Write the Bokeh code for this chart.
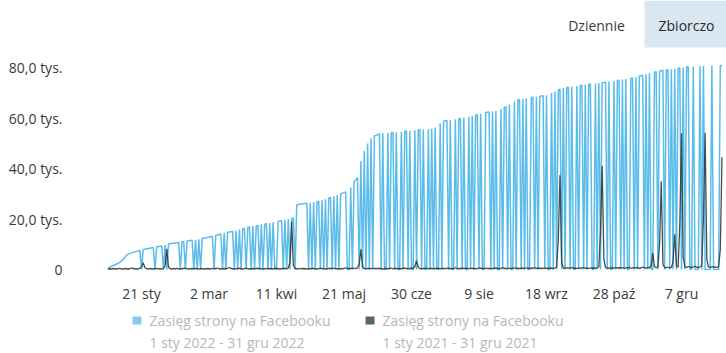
import numpy as np
import pandas as pd
from bokeh.plotting import figure
from bokeh.layouts import column
from bokeh.models import Range1d, FixedTicker, Label, BoxAnnotation
from bokeh.embed import file_html
from bokeh.resources import INLINE

# ---------------- data (thousands of people reached, cumulative) ----------------
year_start = "2022-01-01"
year_end = "2022-12-31"

# 2022 series, one value per day, per month
r22_jan = [0.3, 0.8, 1.2, 1.5, 1.8, 2.1, 2.4, 2.8, 3.3, 4.0, 4.8, 5.6, 6.0, 6.3, 6.6, 6.8, 7.0, 7.2, 7.4, 7.6,
           0, 7.9, 8.0, 8.2, 8.3, 8.4, 8.6, 8.7, 0, 9.0, 9.1]
r22_feb = [9.2, 9.3, 0, 9.7, 0, 10.1, 10.2, 10.3, 10.4, 10.5, 10.6, 10.8, 0, 11.0, 11.1, 0, 11.3, 11.4, 11.5, 11.6,
           0, 11.8, 0, 12.0, 0, 12.3, 12.5, 12.6]
r22_mar = [12.7, 12.8, 13.0, 13.2, 0, 13.5, 13.7, 13.9, 14.1, 0, 14.5, 0, 14.8, 14.9, 15.0, 15.2, 0, 15.5, 0, 15.9,
           0, 16.2, 16.3, 0, 16.7, 16.9, 0, 17.2, 0, 17.4, 17.5]
r22_apr = [0, 17.8, 0, 18.0, 18.2, 0, 18.4, 0, 18.7, 0, 0, 19.1, 19.2, 19.4, 0, 19.7, 0, 20.0, 0, 20.2,
           20.4, 0, 25.7, 25.8, 25.9, 26.0, 26.1, 26.2, 26.3, 0]
r22_may = [26.5, 0, 26.7, 0, 26.9, 27.1, 0, 27.5, 0, 27.9, 0, 28.4, 28.6, 0, 29.0, 0, 29.5, 0, 30.0, 30.3,
           30.5, 30.8, 0, 0, 32.5, 0, 35.0, 35.5, 36.5, 0, 43.0]
r22_jun = [0, 47.0, 0, 50.0, 0, 52.0, 0, 53.0, 53.2, 53.5, 53.7, 0, 54.0, 0, 0, 54.1, 0, 54.2, 54.3, 0,
           54.4, 0, 0, 54.6, 0, 54.8, 54.9, 0, 55.0, 0]
r22_jul = [0, 55.2, 0, 55.4, 55.4, 0, 55.5, 0, 0, 55.7, 0, 55.8, 0, 56.3, 0, 0, 58.0, 0, 58.8, 59.0,
           59.1, 0, 59.3, 0, 0, 59.6, 0, 59.8, 59.9, 0, 60.2]
r22_aug = [0, 0, 60.6, 0, 60.9, 0, 61.3, 61.4, 0, 61.8, 0, 0, 62.3, 62.4, 62.5, 0, 62.8, 0, 63.0, 0,
           0, 63.5, 0, 64.2, 64.6, 0, 65.4, 0, 0, 66.6, 0]
r22_sep = [67.2, 67.4, 0, 67.7, 0, 67.9, 0, 0, 68.2, 68.3, 0, 68.5, 0, 68.7, 68.8, 68.9, 0, 69.1, 0, 0,
           70.0, 0, 70.6, 0, 71.2, 71.5, 0, 72.0, 0, 72.2]
r22_oct = [72.3, 0, 72.5, 0, 0, 72.8, 0, 73.0, 73.1, 0, 73.3, 0, 73.5, 73.6, 0, 0, 73.8, 0, 74.0, 0,
           74.1, 74.2, 74.3, 0, 74.5, 0, 0, 74.8, 0, 75.0, 75.1]
r22_nov = [0, 75.3, 0, 75.5, 0, 0, 75.8, 75.9, 0, 76.2, 0, 76.6, 76.8, 77.0, 0, 77.4, 0, 77.8, 0, 0,
           78.3, 78.4, 0, 78.6, 78.8, 78.9, 0, 79.1, 79.2, 0]
r22_dec = [79.4, 0, 79.6, 0, 79.8, 79.9, 0, 80.1, 0, 80.3, 80.4, 0, 0, 80.5, 0, 0, 0, 80.6, 0, 80.7,
           0, 0, 0, 0, 80.8, 0, 0, 0, 0, 80.9, 80.9]

# 2021 series (comparison period), one value per day, per month
r21_jan = [0.2, 0.3, 0.2, 0.4, 0.3, 0.2, 0.3, 0.5, 0.3, 0.2, 0.4, 0.3, 0.2, 0.3, 0.6, 0.4, 0.3, 0.2, 0.3, 0.5,
           1.0, 2.7, 0.8, 0.3, 0.2, 0.4, 0.3, 0.2, 0.3, 0.5, 0.3]
r21_feb = [0.3, 0.2, 0.4, 1.5, 8.2, 1.0, 0.3, 0.2, 0.4, 0.3, 0.5, 0.3, 0.2, 0.3, 0.4, 0.6, 0.3, 0.2, 0.3, 0.4,
           0.3, 0.5, 0.3, 0.2, 0.4, 0.3, 0.2, 0.3]
r21_mar = [0.4, 0.3, 0.2, 0.5, 0.3, 0.4, 0.6, 0.3, 0.2, 0.3, 0.4, 0.3, 0.5, 0.8, 0.4, 0.3, 0.2, 0.3, 0.5, 0.4,
           0.3, 0.2, 0.4, 0.6, 0.3, 0.2, 0.3, 0.4, 0.3, 0.5, 0.4]
r21_apr = [0.3, 0.4, 0.2, 0.3, 0.5, 0.3, 0.4, 0.3, 0.2, 0.6, 0.4, 0.3, 0.2, 0.3, 0.4, 0.5, 0.3, 0.6, 3.0, 19.0,
           1.5, 0.4, 0.3, 0.2, 0.5, 0.3, 0.4, 0.3, 0.2, 0.4]
r21_may = [0.3, 0.5, 0.4, 0.3, 0.2, 0.4, 0.6, 0.3, 0.4, 0.2, 0.3, 0.5, 0.4, 0.3, 0.6, 0.4, 0.3, 0.2, 0.4, 0.3,
           0.5, 0.7, 0.4, 0.3, 0.5, 0.4, 0.6, 0.3, 0.8, 2.0, 8.0]
r21_jun = [1.2, 0.4, 0.3, 0.5, 0.4, 0.3, 0.6, 0.4, 0.3, 0.5, 0.4, 0.3, 0.2, 0.4, 0.5, 0.3, 0.4, 0.6, 0.3, 0.4,
           0.5, 0.3, 0.4, 0.3, 0.5, 0.6, 0.4, 0.3, 0.5, 0.4]
r21_jul = [0.5, 1.2, 3.5, 0.8, 0.4, 0.3, 0.5, 0.4, 0.6, 0.3, 0.4, 0.5, 0.3, 0.4, 0.6, 0.4, 0.3, 0.5, 0.4, 0.3,
           0.6, 0.4, 0.5, 0.3, 0.4, 0.7, 0.4, 0.3, 0.5, 0.4, 0.6]
r21_aug = [0.4, 0.5, 0.3, 0.6, 0.4, 0.5, 0.3, 0.4, 0.7, 0.5, 0.4, 0.3, 0.6, 0.4, 0.5, 0.3, 0.4, 0.6, 0.5, 0.4,
           0.3, 0.5, 0.8, 0.4, 0.5, 0.3, 0.6, 0.4, 0.5, 0.7, 0.4]
r21_sep = [0.5, 0.4, 0.6, 0.5, 0.4, 0.7, 0.5, 0.4, 0.6, 0.5, 0.8, 0.4, 0.5, 0.6, 0.4, 0.5, 0.7, 0.5, 0.4, 0.6,
           0.5, 0.4, 0.6, 0.9, 12.0, 37.4, 3.0, 0.6, 0.5, 0.7]
r21_oct = [0.6, 0.5, 0.8, 0.5, 0.6, 0.4, 0.7, 0.5, 0.6, 0.8, 0.5, 0.6, 0.4, 0.7, 0.5, 0.6, 0.5, 0.7, 1.0, 15.0,
           41.0, 4.0, 0.8, 0.6, 0.5, 0.7, 0.6, 0.5, 0.8, 0.6, 0.7]
r21_nov = [0.6, 0.8, 0.5, 0.7, 0.6, 0.9, 0.5, 0.7, 0.6, 0.8, 0.7, 0.5, 0.6, 0.9, 0.7, 0.6, 0.8, 0.7, 1.5, 6.5,
           1.2, 0.7, 0.9, 10.0, 35.0, 2.0, 0.8, 0.7, 0.9, 0.6]
r21_dec = [0.8, 3.0, 14.0, 1.5, 0.9, 18.0, 54.0, 5.0, 1.0, 0.8, 1.2, 0.9, 0.8, 1.0, 1.3, 0.9, 0.8, 1.1, 1.4, 20.0,
           54.2, 4.0, 1.0, 0.8, 1.2, 0.9, 1.0, 0.8, 1.1, 8.0, 44.5]

y_tick_values = [0, 20, 40, 60, 80]
y_tick_labels = ["0", "20,0 tys.", "40,0 tys.", "60,0 tys.", "80,0 tys."]
x_tick_dates = ["2022-01-21", "2022-03-02", "2022-04-11", "2022-05-21", "2022-06-30",
                "2022-08-09", "2022-09-18", "2022-10-28", "2022-12-07"]
x_tick_labels = ["21 sty", "2 mar", "11 kwi", "21 maj", "30 cze", "9 sie", "18 wrz", "28 paź", "7 gru"]

series_name = "Zasięg strony na Facebooku"
period_2022 = "1 sty 2022 - 31 gru 2022"
period_2021 = "1 sty 2021 - 31 gru 2021"

# ---------------- assemble ----------------
reach_2022 = (r22_jan + r22_feb + r22_mar + r22_apr + r22_may + r22_jun +
              r22_jul + r22_aug + r22_sep + r22_oct + r22_nov + r22_dec)
reach_2021 = (r21_jan + r21_feb + r21_mar + r21_apr + r21_may + r21_jun +
              r21_jul + r21_aug + r21_sep + r21_oct + r21_nov + r21_dec)

dates = pd.date_range(year_start, year_end, freq="D")
day = np.asarray((dates - dates[0]).days)
tick_days = [int((pd.Timestamp(d) - dates[0]).days) for d in x_tick_dates]

BLUE = "#52b8e8"
DARK = "#2f3c3c"
FONT = "Open Sans"
TEXT = "#3a3a3a"
LEGEND_TEXT = "#b3b8bc"

# ---------------- main chart ----------------
p = figure(width=726, height=305, output_backend="svg", toolbar_location=None,
           x_range=Range1d(-0.15, 366.67), y_range=Range1d(-0.39, 106.67),
           min_border_left=107, min_border_right=0, min_border_top=0, min_border_bottom=32)
p.background_fill_color = "white"
p.border_fill_color = "white"
p.outline_line_color = None
p.xgrid.visible = False
p.ygrid.visible = False

p.line(day, reach_2022, line_color=BLUE, line_width=1.5, line_alpha=0.95)
p.line(day, reach_2021, line_color=DARK, line_width=1.3, line_alpha=0.9)

for ax in (p.xaxis[0], p.yaxis[0]):
    ax.axis_line_color = None
    ax.major_tick_line_color = None
    ax.minor_tick_line_color = None
    ax.major_label_text_font = FONT
    ax.major_label_text_font_size = "14px"
    ax.major_label_text_color = TEXT

p.xaxis.ticker = FixedTicker(ticks=tick_days)
p.xaxis.major_label_overrides = {d: lab for d, lab in zip(tick_days, x_tick_labels)}
p.xaxis.major_label_standoff = 7
p.yaxis.ticker = FixedTicker(ticks=y_tick_values)
p.yaxis.major_label_overrides = {v: lab for v, lab in zip(y_tick_values, y_tick_labels)}
p.yaxis.major_label_standoff = 39

# view toggle buttons (top right)
p.add_layout(BoxAnnotation(left=537, right=619, bottom=223, top=270,
                           left_units="screen", right_units="screen",
                           bottom_units="screen", top_units="screen",
                           fill_color="#d9e7f3", fill_alpha=1.0, line_color=None))
p.add_layout(Label(x=489, y=245, x_units="screen", y_units="screen", text="Dziennie",
                   text_font=FONT, text_font_size="14px", text_color=TEXT,
                   text_align="center", text_baseline="middle"))
p.add_layout(Label(x=579, y=245, x_units="screen", y_units="screen", text="Zbiorczo",
                   text_font=FONT, text_font_size="14px", text_color="#2a2a2a",
                   text_align="center", text_baseline="middle"))

# ---------------- legend strip (its frame is aligned with the chart's frame) ----------------
q = figure(width=726, height=48, output_backend="svg", toolbar_location=None,
           x_range=Range1d(107, 726), y_range=Range1d(48, 0),
           x_axis_location=None, y_axis_location=None,
           min_border_left=0, min_border_right=0, min_border_top=0, min_border_bottom=0)
q.xgrid.visible = False
q.ygrid.visible = False
q.outline_line_color = None
q.background_fill_color = "white"
q.border_fill_color = "white"

legend_items = [(132, "#86cbee", period_2022), (365, "#54676a", period_2021)]
for lx, col, period in legend_items:
    q.add_layout(BoxAnnotation(left=lx, right=lx + 9, top=11, bottom=19,
                               fill_color=col, fill_alpha=1.0, line_color=None))
    q.add_layout(Label(x=lx + 17, y=15, text=series_name,
                       text_font=FONT, text_font_size="14px", text_color=LEGEND_TEXT,
                       text_align="left", text_baseline="middle"))
    q.add_layout(Label(x=lx + 17, y=37, text=period,
                       text_font=FONT, text_font_size="14px", text_color=LEGEND_TEXT,
                       text_align="left", text_baseline="middle"))

layout = column(p, q, spacing=0)
open("out.html", "w").write(file_html(layout, INLINE))
